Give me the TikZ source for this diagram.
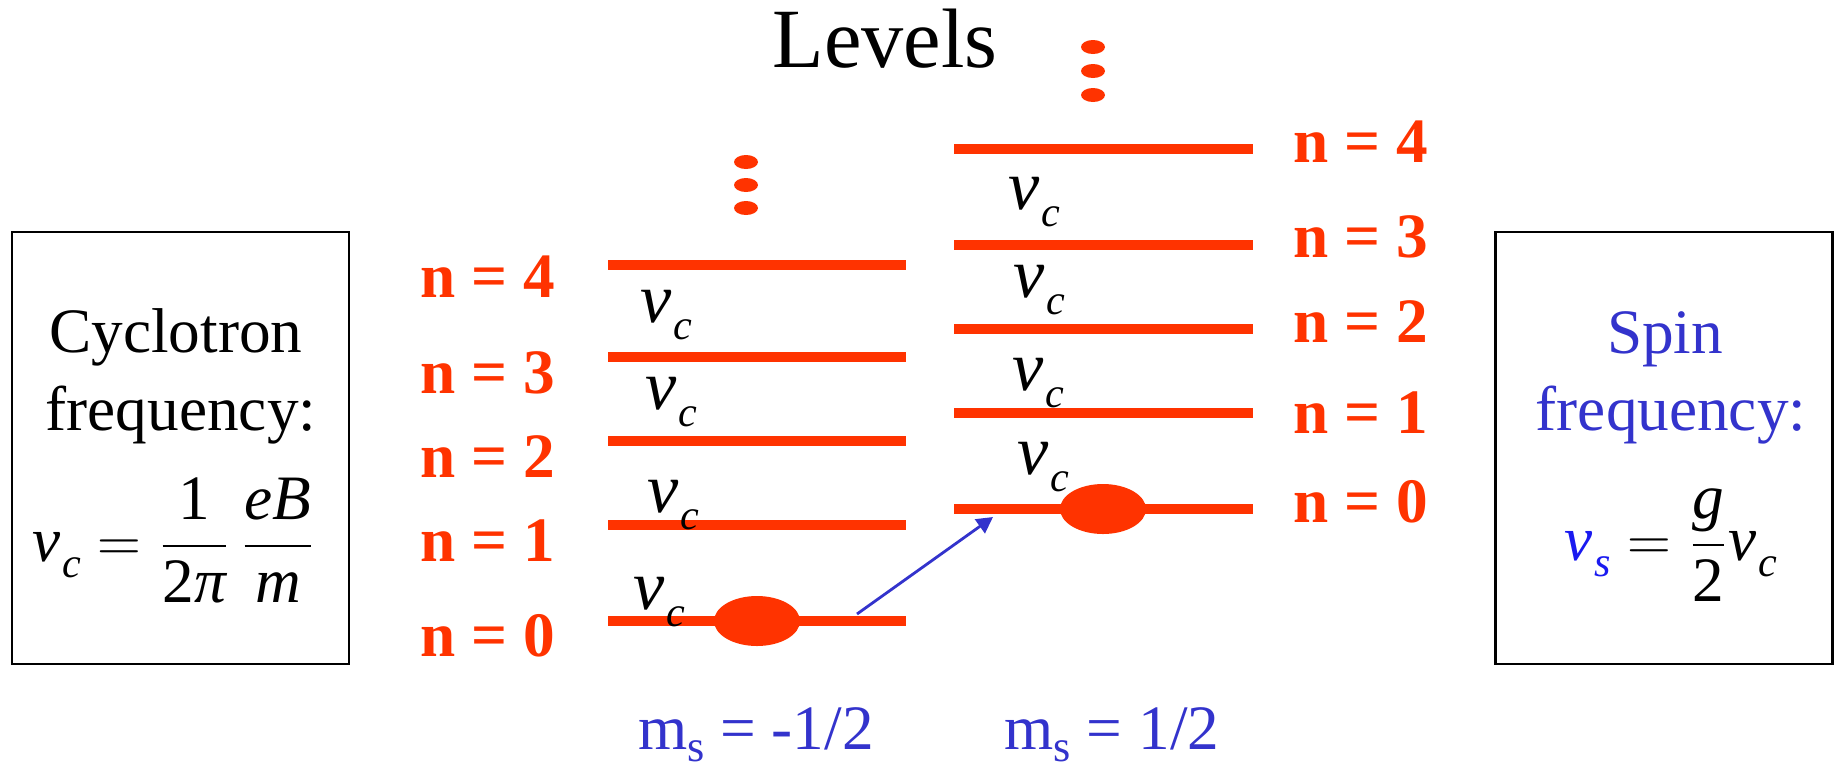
\documentclass[tikz,border=0pt]{standalone}
\usepackage{amsmath}
\usepackage{fontspec}
\setmainfont{Liberation Serif}
\usepackage{tikz}
\usetikzlibrary{arrows.meta,positioning,shapes.geometric}
\definecolor{lvred}{HTML}{FF3300}
\definecolor{spinblue}{HTML}{3333CC}
\definecolor{nublue}{HTML}{1A1AF0}
\newcommand{\ivar}[1]{\text{\itshape #1}}
\newcommand{\nusub}[1]{\textit{ν}\kern0.5pt\raisebox{-4.8pt}{\fontsize{12}{14}\selectfont\itshape #1}}
\newcommand{\msub}{m\raisebox{-3.6pt}{\fontsize{12.6}{14}\selectfont s}}

\begin{document}
\begin{tikzpicture}[x=0.1mm, y=-0.1mm, font=\fontsize{18}{22}\selectfont,
  >={Triangle[length=4.6pt,width=4.8pt]},
  lvl/.style={line width=2.6pt, draw=lvred},
  nlab/.style={anchor=base, inner sep=0pt, text=lvred, font=\fontsize{18}{22}\selectfont\bfseries},
  nulab/.style={anchor=north west, inner sep=0pt, font=\fontsize{20}{24}\selectfont},
  txt/.style={anchor=base, inner sep=0pt},
  electron/.style={ellipse, fill=lvred, minimum width=8.6mm, minimum height=5mm, inner sep=0pt},
  vdot/.style={ellipse, fill=lvred, minimum width=2.4mm, minimum height=1.4mm, inner sep=0pt},
  infobox/.style={draw, line width=0.75pt, minimum width=33.7mm, minimum height=43.2mm, inner sep=0pt},
  flip/.style={->, draw=spinblue, line width=0.8pt}]
\useasboundingbox (0,0) rectangle (1834,769);
\node[txt, font=\fontsize{24}{28}\selectfont] (title) at (885,67) {Levels};
% the two ladders, m_s = -1/2 (a) and m_s = 1/2 (b)
\foreach \n/\ya/\yb/\ba/\bb in {4/265/149/297/162, 3/357/245/393/257, 2/441/329/477/342, 1/525/413/561/433, 0/621/509/656/522} {
  \draw[lvl] (608,\ya) coordinate (a\n w) -- (906,\ya) coordinate (a\n e);
  \draw[lvl] (954,\yb) coordinate (b\n w) -- (1253,\yb) coordinate (b\n e);
  \node[nlab] (na\n) at (488,\ba) {n = \n};
  \node[nlab] (nb\n) at (1361,\bb) {n = \n};
}
\foreach \x/\y [count=\i] in {640/290, 645/377, 647/480, 633/577}
  \node[nulab] (nua\i) at (\x,\y) {\nusub{c}};
\foreach \x/\y [count=\i] in {1008/177, 1013/265, 1012/358, 1017/442}
  \node[nulab] (nub\i) at (\x,\y) {\nusub{c}};
\foreach \y [count=\i] in {162,185,208} \node[vdot] (dota\i) at (746,\y) {};
\foreach \y [count=\i] in {47,71,95} \node[vdot] (dotb\i) at (1093,\y) {};
\node[electron] (ea) at (757,621) {};
\node[electron] (eb) at (1103,509) {};
\coordinate (flipS) at (857,614);
\coordinate (flipE) at (993,517);
\draw[flip] (flipS) -- (flipE);
\node[txt, text=spinblue] (msa) at (756,749) {\msub{} = -1/2};
\node[txt, text=spinblue] (msb) at (1112,749) {\msub{} = 1/2};
% side boxes
\node[infobox] (cycbox) at (180.5,448) {};
\node[txt] (cyc1) at (176,352) {Cyclotron};
\node[txt] (cyc2) at (181,430) {frequency:};
\node[txt] (cycf) at (174,561) {$\text{\nusub{c}} = \dfrac{\text{1}}{\text{2}\ivar{π}}\,\dfrac{\ivar{eB}}{\ivar{m}}$};
\node[infobox] (spinbox) at (1664,448) {};
\node[txt, text=spinblue] (spin1) at (1665,353) {Spin};
\node[txt, text=spinblue] (spin2) at (1671,430) {frequency:};
\node[txt] (spinf) at (1671,560) {$\textcolor{nublue}{\text{\nusub{s}}} = \dfrac{\ivar{g}}{\text{2}}\text{\nusub{c}}$};
\end{tikzpicture}
\end{document}
